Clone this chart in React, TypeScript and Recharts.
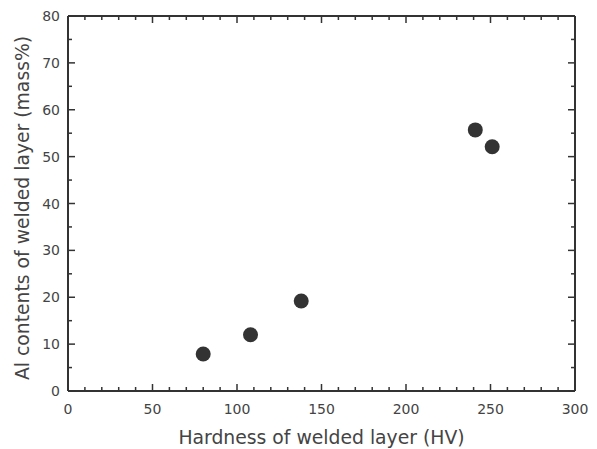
import React from 'react';
import { ScatterChart, Scatter, XAxis, YAxis, Label } from 'recharts';

// measured points: hardness (HV) vs Al content (mass%)
const hardness = [80, 108, 138, 241, 251];
const alContent = [7.9, 12.0, 19.2, 55.7, 52.1];

const xTicks = [0, 10, 20, 30, 40, 50, 60, 70, 80, 90, 100, 110, 120, 130, 140, 150, 160, 170, 180, 190, 200, 210, 220, 230, 240, 250, 260, 270, 280, 290, 300];
const xMajor = [0, 50, 100, 150, 200, 250, 300];
const yTicks = [0, 5, 10, 15, 20, 25, 30, 35, 40, 45, 50, 55, 60, 65, 70, 75, 80];
const yMajor = [0, 10, 20, 30, 40, 50, 60, 70, 80];

const points = hardness.map((h, i) => ({ x: h, y: alContent[i] }));

const INK = '#333';
const FONT = '"DejaVu Sans", sans-serif';

const BottomTick = (props: any) => {
  const { x, y, payload } = props;
  const major = xMajor.includes(payload.value);
  return (
    <g>
      <line x1={x} y1={y} x2={x} y2={y - (major ? 7 : 4)} stroke={INK} strokeWidth={1.5} />
      {major && (
        <text x={x} y={y + 23} textAnchor="middle" fontSize={14} fill="#444" fontFamily={FONT}>
          {payload.value}
        </text>
      )}
    </g>
  );
};

const TopTick = (props: any) => {
  const { x, y, payload } = props;
  const major = xMajor.includes(payload.value);
  return <line x1={x} y1={y} x2={x} y2={y + (major ? 7 : 4)} stroke={INK} strokeWidth={1.5} />;
};

const LeftTick = (props: any) => {
  const { x, y, payload } = props;
  const major = yMajor.includes(payload.value);
  return (
    <g>
      <line x1={x} y1={y} x2={x + (major ? 7 : 4)} y2={y} stroke={INK} strokeWidth={1.5} />
      {major && (
        <text x={x - 8} y={y + 5} textAnchor="end" fontSize={14} fill="#444" fontFamily={FONT}>
          {payload.value}
        </text>
      )}
    </g>
  );
};

const RightTick = (props: any) => {
  const { x, y, payload } = props;
  const major = yMajor.includes(payload.value);
  return <line x1={x} y1={y} x2={x - (major ? 7 : 4)} y2={y} stroke={INK} strokeWidth={1.5} />;
};

const Dot = (props: any) => <circle cx={props.cx} cy={props.cy} r={7.5} fill={INK} />;
const NoDot = () => null;

export default function App() {
  return (
    <div style={{ position: 'absolute', left: 0, top: 0, background: '#fff' }}>
      <ScatterChart width={597} height={449} margin={{ top: 15, right: 21, left: 0, bottom: 0 }}>
        <XAxis
          dataKey="x"
          type="number"
          domain={[0, 300]}
          ticks={xTicks}
          interval={0}
          height={58}
          tickSize={0}
          tickMargin={0}
          tick={<BottomTick />}
          axisLine={{ stroke: INK, strokeWidth: 2 }}
        >
          <Label
            content={({ viewBox }: any) => (
              <text
                x={viewBox.x + viewBox.width / 2}
                y={viewBox.y + 53}
                textAnchor="middle"
                fontSize={18.8}
                fill="#444"
                fontFamily={FONT}
              >
                Hardness of welded layer (HV)
              </text>
            )}
          />
        </XAxis>
        <XAxis
          xAxisId="top"
          dataKey="x"
          orientation="top"
          type="number"
          domain={[0, 300]}
          ticks={xTicks}
          interval={0}
          height={1}
          tickSize={0}
          tickMargin={0}
          tick={<TopTick />}
          axisLine={{ stroke: INK, strokeWidth: 2 }}
        />
        <YAxis
          dataKey="y"
          type="number"
          domain={[0, 80]}
          ticks={yTicks}
          interval={0}
          width={68}
          tickSize={0}
          tickMargin={0}
          tick={<LeftTick />}
          axisLine={{ stroke: INK, strokeWidth: 2 }}
        >
          <Label
            content={({ viewBox }: any) => {
              const cx = viewBox.x + 22;
              const cy = viewBox.y + viewBox.height / 2 + 4.5;
              return (
                <text
                  x={cx}
                  y={cy}
                  transform={`rotate(-90 ${cx} ${cy})`}
                  textAnchor="middle"
                  dominantBaseline="central"
                  fontSize={18.8}
                  fill="#444"
                  fontFamily={FONT}
                >
                  Al contents of welded layer (mass%)
                </text>
              );
            }}
          />
        </YAxis>
        <YAxis
          yAxisId="right"
          dataKey="y"
          orientation="right"
          type="number"
          domain={[0, 80]}
          ticks={yTicks}
          interval={0}
          width={1}
          tickSize={0}
          tickMargin={0}
          tick={<RightTick />}
          axisLine={{ stroke: INK, strokeWidth: 2 }}
        />
        <Scatter data={points} shape={<Dot />} isAnimationActive={false} />
        <Scatter data={points} xAxisId="top" yAxisId="right" shape={<NoDot />} isAnimationActive={false} />
      </ScatterChart>
    </div>
  );
}
